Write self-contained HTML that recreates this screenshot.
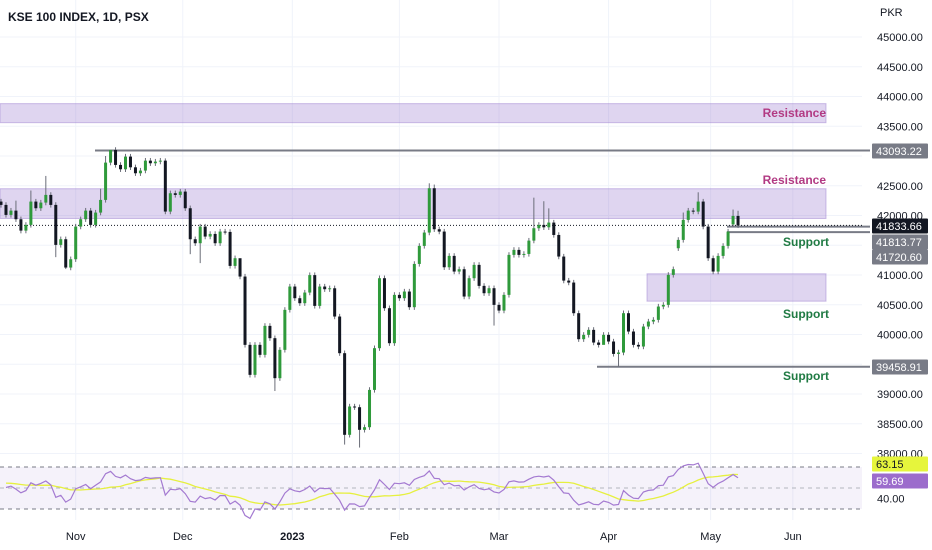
<!DOCTYPE html>
<html><head><meta charset="utf-8">
<style>
html,body{margin:0;padding:0;background:#fff;width:932px;height:550px;overflow:hidden;font-family:"Liberation Sans",sans-serif;}
svg text{font-family:"Liberation Sans",sans-serif;}
</style></head>
<body>
<svg id="chart" width="932" height="550" xmlns="http://www.w3.org/2000/svg">
<g id="grid"></g>
<g id="zones"></g>
<g id="candles"></g>
<g id="rsi"></g>
<g id="axis"></g>
<text x="8" y="21" font-size="12" font-weight="bold" fill="#131722">KSE 100 INDEX, 1D, PSX</text>
</svg>
<script>
const closes=[42178,42010,42082,41937,41746,41842,42234,42122,42217,42346,
42178,41506,41601,41125,41265,41814,41937,42082,41842,42049,
42262,42889,43102,42850,42777,42990,42810,42710,42755,42922,
42878,42906,42922,42066,42374,42346,42402,42122,41601,41534,
41814,41646,41690,41534,41730,41724,41153,41282,40974,39826,
39322,39826,39658,40145,39938,39266,39742,40414,40806,40610,
40526,40705,40998,40481,40806,40761,40777,40302,39686,38314,
38790,38778,38398,38442,39069,39770,40946,40442,39854,40666,
40610,40722,40459,41186,41489,41713,42458,41769,41730,41130,
41321,41058,41097,40638,40946,41170,40817,40694,40778,40498,
40402,40666,41338,41422,41338,41354,41578,41786,41842,41802,
41881,41673,41310,40906,40873,40358,39921,39994,40078,39865,
39826,39994,39882,39674,39697,40358,40050,39826,39798,40134,
40218,40246,40470,40498,41002,41097,41590,41926,42082,42066,
42234,41814,41282,41058,41321,41489,41730,41993,41834];
const firstOpen=42234;
const gapOpens={136:41450,147:41850};
const highOverrides={9:42665,22:43093,21:43000,86:42541,87:42520,33:42960,48:41200,137:42050,140:42390,147:42100,148:42080,107:42300,109:42240,110:42120,20:42450,6:42420,3:42250};
const lowOverrides={69:38150,72:38100,55:39050,124:39458,99:40150,11:41300,4:41700,13:41100,38:41350,40:41200,121:39900};
const priceTicks=[45000,44500,44000,43500,42500,42000,41000,40500,40000,39000,38500,38000];
const monthLabels=["Nov","Dec","2023","Feb","Mar","Apr","May","Jun"];
const monthBars=[15,36.5,58.5,80,100,122,142.5,159];
const rsiTicks=[40];
const rsiSeedGain=[110];
const rsiSeedLoss=[95];
const rsiMaSeed=[55];

const NS="http://www.w3.org/2000/svg";
function el(tag,attrs,parent){const e=document.createElementNS(NS,tag);for(const k in attrs)e.setAttribute(k,attrs[k]);parent.appendChild(e);return e;}
const yP=p=>37+(45000-p)*0.0595;
const xB=i=>1+4.98*i;
const yR=v=>509-(v-30)*1.05;
const CW=862;

const grid=document.getElementById('grid');
priceTicks.concat([43000,41500,39500]).forEach(p=>{
  const l=el('line',{x1:0,x2:CW,y1:yP(p),y2:yP(p),stroke:'#f0f3fa','stroke-width':1},grid);
  
  
});
monthBars.forEach((b,i)=>{
  const x=xB(b);
  const l=el('line',{x1:x,x2:x,y1:0,y2:520,stroke:'#f0f3fa','stroke-width':1},grid);
  
  
  const t=el('text',{x:x,y:540,'font-size':11,fill:'#131722','text-anchor':'middle','font-weight':monthLabels[i]==='2023'?'bold':'normal'},grid);
  t.textContent=monthLabels[i];
  
  
});

const zones=document.getElementById('zones');
function zone(x1,p1,p2,name){
  const r=el('rect',{x:x1,y:yP(p1),width:826-x1,height:yP(p2)-yP(p1),fill:'rgba(149,117,205,0.3)',stroke:'rgba(149,117,205,0.45)','stroke-width':1},zones);
  
  
}
zone(0,43880,43560,'resistance-zone-upper');
zone(0,42450,41950,'resistance-zone-lower');
zone(647,41020,40560,'support-zone');
function label(txt,x,y,col,name){
  const t=el('text',{x:x,y:y,'font-size':12,'font-weight':'bold',fill:col,'text-anchor':'end'},zones);
  t.textContent=txt;
  
  
}
label('Resistance',826,117,'#b23a83','resistance-label-upper');
label('Resistance',826,184,'#b23a83','resistance-label-lower');
label('Support',829,246,'#1f7a43','support-label-1');
label('Support',829,318,'#1f7a43','support-label-2');
label('Support',829,380,'#1f7a43','support-label-3');
function hline(x1,p,name){
  const l=el('line',{x1:x1,x2:CW+8,y1:yP(p),y2:yP(p),stroke:'#787b86','stroke-width':2},zones);
  
  
}
hline(95,43093.22,'level-43093');
hline(597,39458.91,'level-39458');
hline(727,41813.77,'level-41813');
hline(727,41720.60,'level-41720');
const dl=el('line',{x1:0,x2:CW,y1:yP(41833.66),y2:yP(41833.66),stroke:'#131722','stroke-width':1,'stroke-dasharray':'1 2'},zones);



const cg=document.getElementById('candles');
closes.forEach((c,i)=>{
  const o=(i in gapOpens)?gapOpens[i]:(i===0?firstOpen:closes[i-1]);
  const hi=(i in highOverrides)?highOverrides[i]:Math.max(o,c)+45;
  const lo=(i in lowOverrides)?lowOverrides[i]:Math.min(o,c)-45;
  const up=c>=o, x=xB(i);
  const col=up?'#2f9a3b':'#131722';
  const w=el('line',{x1:x,x2:x,y1:yP(hi),y2:yP(lo),stroke:'#6a6d78','stroke-width':1},cg);
  
  
  const top=yP(Math.max(o,c)), h=Math.max(1,yP(Math.min(o,c))-top);
  const b=el('rect',{x:x-1.5,y:top,width:3,height:h,fill:col},cg);
  
  
});

// RSI
const rg=document.getElementById('rsi');
const bg=el('rect',{x:0,y:yR(70),width:CW,height:yR(30)-yR(70),fill:'rgba(126,87,194,0.08)'},rg);


[[70,'#787b86'],[50,'#b2b5be'],[30,'#787b86']].forEach(([v,c])=>{
  const l=el('line',{x1:0,x2:CW,y1:yR(v),y2:yR(v),stroke:c,'stroke-width':1,'stroke-dasharray':'4 4'},rg);
  
  
});
const rsi=[];let ag=rsiSeedGain[0],al=rsiSeedLoss[0];const N=14;
for(let i=1;i<closes.length;i++){
  const d=closes[i]-closes[i-1],g=Math.max(d,0),l=Math.max(-d,0);
  ag=(ag*(N-1)+g)/N;al=(al*(N-1)+l)/N;
  rsi[i]=al===0?100:100-100/(1+ag/al);
}
let rp='',mp='';
for(let i=1;i<closes.length;i++){
  rp+=(rp?'L':'M')+xB(i).toFixed(1)+','+yR(rsi[i]).toFixed(1);
  let sum=0,n=0;
  for(let k=i-13;k<=i;k++){sum+=(k>=1?rsi[k]:rsiMaSeed[0]);n++;}
  mp+=(mp?'L':'M')+xB(i).toFixed(1)+','+yR(sum/n).toFixed(1);
}
const ma=el('path',{d:mp,fill:'none',stroke:'#e6f03f','stroke-width':1.3},rg);


const rl=el('path',{d:rp,fill:'none',stroke:'#a47ad1','stroke-width':1.2},rg);



// axis
const ax=document.getElementById('axis');
const pk=el('text',{x:880,y:16,'font-size':11,fill:'#131722'},ax);
pk.textContent='PKR';


priceTicks.forEach(p=>{
  const t=el('text',{x:877,y:yP(p)+4,'font-size':11,fill:'#131722'},ax);
  t.textContent=p.toFixed(2);
  
  
});
rsiTicks.forEach(v=>{
  const t=el('text',{x:877,y:yR(v)+4,'font-size':11,fill:'#131722'},ax);
  t.textContent=v.toFixed(2);
  
  
});
function tag(txt,y,bgc,fg,name){
  const r=el('rect',{x:872,y:y-7.5,width:56,height:15,fill:bgc,rx:1},ax);
  
  
  const t=el('text',{x:876,y:y+4,'font-size':11,fill:fg},ax);
  t.textContent=txt;
  
  
}
tag('43093.22',151,'#787b86','#fff','tag-43093');
tag('39458.91',367,'#787b86','#fff','tag-39458');
tag('41813.77',242,'#787b86','#fff','tag-41813');
tag('41720.60',257,'#787b86','#fff','tag-41720');
tag('41833.66',226,'#131722','#fff','tag-last-price');
tag('63.15',464,'#e6f53c','#131722','tag-rsi-ma');
tag('59.69',481,'#9c6ccc','#fff','tag-rsi');
</script>
</body></html>
